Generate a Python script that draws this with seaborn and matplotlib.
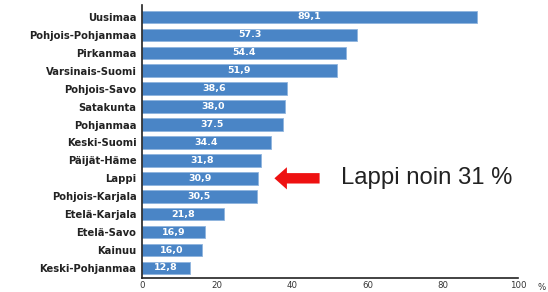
import matplotlib
matplotlib.use("Agg")
import matplotlib.pyplot as plt
import seaborn as sns
import pandas as pd

regions = ["Uusimaa", "Pohjois-Pohjanmaa", "Pirkanmaa", "Varsinais-Suomi", "Pohjois-Savo",
           "Satakunta", "Pohjanmaa", "Keski-Suomi", "Päijät-Häme", "Lappi",
           "Pohjois-Karjala", "Etelä-Karjala", "Etelä-Savo", "Kainuu", "Keski-Pohjanmaa"]
values = [89.1, 57.3, 54.4, 51.9, 38.6, 38.0, 37.5, 34.4, 31.8, 30.9, 30.5, 21.8, 16.9, 16.0, 12.8]
value_labels = ["89,1", "57.3", "54.4", "51,9", "38,6", "38,0", "37.5", "34.4", "31,8", "30,9",
                "30,5", "21,8", "16,9", "16,0", "12,8"]
x_ticks = [0, 20, 40, 60, 80, 100]

df = pd.DataFrame({"region": regions, "value": values})

sns.set_style("white")
fig = plt.figure(figsize=(5.48, 2.92), dpi=100)
ax = fig.add_axes([0.259, 0.048, 0.686, 0.935])

sns.barplot(data=df, y="region", x="value", color="#4a85c6", saturation=1,
            width=0.7, edgecolor="#8fb4de", linewidth=0.6, ax=ax)

# value labels in the middle of each bar
for i, (v, lab) in enumerate(zip(values, value_labels)):
    ax.text(v / 2, i, lab, color="white", ha="center", va="center",
            fontsize=6.8, fontweight="bold")

ax.set_xlim(0, 100)
ax.set_ylim(14.56, -0.67)
ax.set_xticks(x_ticks)
ax.set_xticklabels([str(t) for t in x_ticks], fontsize=6.2, color="#333333")
ax.tick_params(axis="x", length=0, pad=2.5)
ax.tick_params(axis="y", length=0, labelsize=7.2, pad=4)
for lbl in ax.get_yticklabels():
    lbl.set_fontweight("bold")
    lbl.set_color("#222222")
ax.set_xlabel("")
ax.set_ylabel("")
sns.despine(ax=ax)
for s in ["left", "bottom"]:
    ax.spines[s].set_color("#222222")
    ax.spines[s].set_linewidth(1.2)

fig.text(0.995, 0.0, "%", fontsize=6.2, color="#333333", ha="right", va="bottom")

# red arrow pointing at Lappi
ax.annotate("", xy=(34.5, 9), xytext=(48, 9),
            arrowprops=dict(arrowstyle="simple,head_width=1.6,head_length=0.9,tail_width=0.75",
                            color="#ee1111", lw=0), annotation_clip=False)
ax.text(53, 9, "Lappi noin 31 %", fontsize=17.2, family="Liberation Sans",
        color="#222222", va="center", ha="left")

fig.savefig("out.png", dpi=100)
